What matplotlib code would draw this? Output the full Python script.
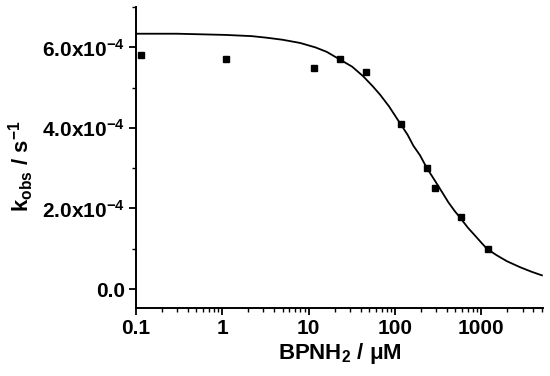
import matplotlib

matplotlib.use("Agg")
import matplotlib.pyplot as plt
from matplotlib.ticker import FixedLocator, LogLocator, NullFormatter

plt.rcParams["font.family"] = ["Liberation Sans", "DejaVu Sans"]
plt.rcParams["font.weight"] = "bold"
plt.rcParams["mathtext.fontset"] = "custom"
plt.rcParams["mathtext.rm"] = "Liberation Sans:bold"
plt.rcParams["mathtext.bf"] = "Liberation Sans:bold"
plt.rcParams["mathtext.it"] = "Liberation Sans:bold"
plt.rcParams["mathtext.default"] = "bf"

# measured points: concentration (uM) vs k_obs (s^-1)
conc = [0.115, 1.12, 11.6, 23.1, 46.3, 117, 233, 292, 578, 1178]
kobs = [5.81e-4, 5.70e-4, 5.50e-4, 5.70e-4, 5.40e-4, 4.10e-4, 3.01e-4, 2.51e-4, 1.79e-4, 1.00e-4]

# fitted curve
fit_x = [0.1, 0.3, 1.1, 2.2, 3.3, 5.0, 8.0, 12, 16.2, 23, 32, 43, 55, 67, 85, 115,
         140, 163, 195, 233, 290, 350, 416, 490, 568, 700, 850, 1000, 1159,
         1500, 1977, 2820, 3800, 5020]
fit_y = [6.34e-4, 6.34e-4, 6.31e-4, 6.28e-4, 6.24e-4, 6.19e-4, 6.11e-4, 6.00e-4,
         5.89e-4, 5.70e-4, 5.52e-4, 5.28e-4, 5.04e-4, 4.83e-4, 4.54e-4, 4.11e-4,
         3.83e-4, 3.56e-4, 3.32e-4, 3.01e-4, 2.69e-4, 2.41e-4, 2.15e-4, 1.94e-4,
         1.77e-4, 1.52e-4, 1.32e-4, 1.15e-4, 1.00e-4, 0.84e-4, 0.69e-4, 0.54e-4,
         0.43e-4, 0.34e-4]

yticks = [0, 2e-4, 4e-4, 6e-4]
ytick_labels = ["0.0", "2.0x10$^{-4}$", "4.0x10$^{-4}$", "6.0x10$^{-4}$"]
xticks = [0.1, 1, 10, 100, 1000]
xtick_labels = ["0.1", "1", "10", "100", "1000"]

fig = plt.figure(figsize=(5.5, 3.76), dpi=100)
ax = fig.add_axes([0.247, 0.181, 0.74, 0.80])

ax.plot(fit_x, fit_y, color="black", lw=1.3, zorder=2)
ax.plot(conc, kobs, ls="none", marker="s", ms=4.5, color="black", zorder=3)

ax.set_xscale("log")
ax.set_xlim(0.1, 5150)
ax.set_ylim(-0.47e-4, 7.0e-4)

ax.set_xticks(xticks)
ax.set_xticklabels(xtick_labels)
ax.xaxis.set_minor_locator(LogLocator(base=10, subs=range(2, 10)))
ax.xaxis.set_minor_formatter(NullFormatter())
ax.set_yticks(yticks)
ax.set_yticklabels(ytick_labels)
ax.yaxis.set_minor_locator(FixedLocator([1e-4, 3e-4, 5e-4, 7e-4]))

for side in ("top", "right"):
    ax.spines[side].set_visible(False)
for side in ("left", "bottom"):
    ax.spines[side].set_linewidth(1.4)
ax.tick_params(which="major", direction="out", length=5, width=1.3, labelsize=15, pad=3)
ax.tick_params(which="minor", direction="out", length=3, width=1.0)

ax.set_xlabel("BPNH$_2$ / μM", fontsize=16, fontweight="bold", labelpad=2)
ax.set_ylabel("k$_{obs}$ / s$^{-1}$", fontsize=16, fontweight="bold")
ax.yaxis.set_label_coords(-0.245, 0.47)

fig.savefig("out.png", dpi=100)
